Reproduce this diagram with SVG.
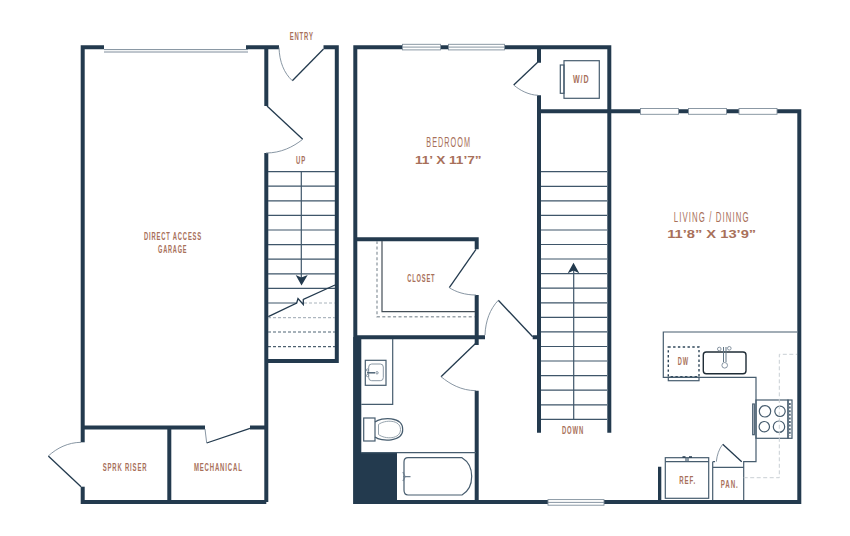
<svg xmlns="http://www.w3.org/2000/svg" width="850" height="536" viewBox="0 0 850 536">
<style>
.w{fill:none;stroke:#233a4e;stroke-width:4;stroke-linecap:butt}
.p{fill:none;stroke:#233a4e;stroke-width:1.3}
.a{fill:none;stroke:#7a8a98;stroke-width:.9}
.s{fill:none;stroke:#3f566a;stroke-width:1.2}
.k{fill:none;stroke:#465c6e;stroke-width:1.2}
.g{fill:#fff;stroke:#7f8e9b;stroke-width:.9}
text{font-family:"Liberation Sans",Arial,sans-serif;font-weight:700;fill:#a8705a;text-anchor:middle}
.m{font-size:11.5px;letter-spacing:.14em}.b{font-size:14px;font-weight:400;letter-spacing:.14em}.d{font-size:11.5px}
</style>
<rect width="850" height="536" fill="#fff"/>
<g id="walls">
<path class="w" d="M104 47.3H82.7V502H266.3M246 47.3H279M323.5 47.3H336.8V361H266.3M266.3 47.3V106M266.3 153V502M82.7 427.5H205M250 427.5H266M169.3 427.5V502"/>
<path fill="#fff" d="M79 442.3H87V486.7H79Z"/>
<path class="w" d="M355.3 47.3H402M504 47.3H609.3V113M440 47.3H449M539 47.3V62.7M539 95.3V432.7M539 111.3H799.3V504M609.3 111.3V432.7M355.3 45.3V504M353.3 502H801M355.3 239.3H476.7V249.3M476.7 295V345M476.7 390.7V502M355.3 337.3H485M532.7 337.3H539"/>
<path fill="#233a4e" d="M353.3 337H361.3V504H353.3ZM353.3 452H397V504H353.3ZM658 466.7H661.3V502H658Z"/>
</g>
<g id="windows">
<path d="M104 49.6H248M104 52H248" fill="none" stroke="#6f8090" stroke-width=".9"/>
<rect class="g" x="402.5" y="44.3" width="38" height="5.6"/><path class="a" d="M402.5 47.1H440.5"/>
<rect class="g" x="448.5" y="44.3" width="56" height="5.6"/><path class="a" d="M448.5 47.1H504.5"/>
<rect class="g" x="640.5" y="108.5" width="38" height="5.8"/>
<rect class="g" x="688.5" y="108.5" width="38" height="5.8"/>
<rect class="g" x="739" y="108.5" width="38" height="5.8"/>
<rect class="g" x="548" y="499.6" width="56" height="5.6"/><path class="a" d="M548 502.4H604"/>
</g>
<g id="doors">
<path class="p" d="M323.5 49L292.3 80.7"/><path class="a" d="M279 47.5C279.5 62 284 73 292.3 80.7"/>
<path class="p" d="M267 106L302.7 139.3"/><path class="a" d="M302.7 139.3C293 147 281 153 266 153"/>
<path class="p" d="M250 428.3L206.7 443"/><path class="a" d="M205 429L206.7 443"/>
<path class="p" d="M81 486.7L48.3 456"/><path class="a" d="M48.3 456C57 448 68 442.5 81 442.3"/>
<path class="p" d="M537.7 62.3L513.7 85"/><path class="a" d="M513.7 85C520 90.5 529 95 538 95.3"/>
<path class="p" d="M476 249.3L449.3 287.7"/><path class="a" d="M449.3 287.7C456 292 465 295 476 295"/>
<path class="p" d="M498.3 300.3L532.7 336.7"/><path class="a" d="M485 335C485.5 321 490 309 498.3 300.3"/>
<path class="p" d="M475.5 343.5L441 376.7"/><path class="a" d="M441 376.7C450 384 461 390.5 476 390.7"/>
</g>
<g id="stairs-up">
<path class="s" d="M268 171.7H335M268 186.2H335M268 200.8H335M268 215.4H335M268 230H335M268 244.6H335M268 259.2H335M268 273.8H335M268 288.3H335M268 303H297"/>
<path class="s" d="M301.3 171.7V280"/>
<path fill="#233a4e" d="M295.7 275L301.3 277.5L307.7 275L301.5 285.5Z"/>
<path class="p" d="M268.3 316.7L296.7 303L298 298.5L303.3 304.5V299.5L335 285"/>
<path d="M304 303H335" fill="none" stroke="#aab4bc" stroke-width="1" stroke-dasharray="3 2"/>
<path d="M268 317.7H335" fill="none" stroke="#9aa6b0" stroke-width="1" stroke-dasharray="3 2"/>
<path d="M268 332H335" fill="none" stroke="#4f6475" stroke-width="1.2" stroke-dasharray="3 2"/>
<path d="M268 346.7H335" fill="none" stroke="#233a4e" stroke-width="1" stroke-dasharray="3 2"/>
</g>
<g id="stairs-down">
<path class="s" d="M541 171.7H607M541 186.3H607M541 200.8H607M541 215.4H607M541 230H607M541 244.5H607M541 259H607M541 273.6H607M541 288.2H607M541 302.8H607M541 317.3H607M541 331.9H607M541 346.5H607M541 361H607M541 375.6H607M541 390.2H607M541 404.8H607M541 419.3H607"/>
<path class="s" d="M573.7 419.3V268"/>
<path fill="#233a4e" d="M567.7 273.3L573.5 262.7L579.3 273.3L573.5 270.5Z"/>
</g>
<g id="closet">
<path d="M382 241V311.7H475" fill="none" stroke="#454f58" stroke-width="1.2"/>
<path d="M377 241V316.7H475" fill="none" stroke="#9aa3aa" stroke-width="1.4" stroke-dasharray="3 2.4"/>
</g>
<g id="wd">
<rect class="k" x="564" y="60.7" width="35.3" height="37.6"/>
<rect class="k" x="560.3" y="65" width="3.7" height="28.3"/>
</g>
<g id="bath">
<path class="k" d="M392.7 339V404.3H361.3M361 452.7H476"/>
<rect class="k" x="365.3" y="360.3" width="20.7" height="25"/>
<rect x="368.7" y="364" width="14.6" height="16.7" rx="3" fill="none" stroke="#8a98a4" stroke-width="1"/>
<path d="M367 372.8H375" fill="none" stroke="#4f6475" stroke-width="1.5"/>
<circle cx="367.5" cy="370" r="1.1" class="a"/><circle cx="367.5" cy="375.6" r="1.1" class="a"/><circle cx="377" cy="372.8" r="1.2" class="a"/>
<rect class="k" x="363.7" y="418" width="11.3" height="23"/>
<path class="k" d="M375 422C381 417 403 416 402.7 429.5C403 442 381 442 375 437"/>
<path d="M378.5 424.5C385 419.5 400.5 419.5 400.5 429.5C400.5 439.5 385 439.5 378.5 434.5Z" fill="none" stroke="#8a98a4" stroke-width=".9"/>
<path class="k" d="M408 457.7H462C469 462 471.7 468 471.7 476.3C471.7 485 469 491 462 495H408C405.5 495 404 493 404 490V462C404 459 405.5 457.7 408 457.7Z"/>
<path d="M403 476.7H410.5M403 472L405 476.7L403 481" fill="none" stroke="#6f8090" stroke-width="1.3"/>
</g>
<g id="kitchen">
<path class="k" d="M797 332H663.3V377.3H756V461.7H743.7V500M712.7 461.7V500M712.7 467.3H743.7M712.7 461.7H715"/>
<rect x="668.3" y="347" width="30.7" height="29.7" fill="none" stroke="#2f4759" stroke-width="1.4" stroke-dasharray="2.4 2.4"/>
<rect class="k" x="668.3" y="377.3" width="30.7" height="3.4"/>
<rect x="703.3" y="352" width="42.7" height="21.7" rx="3" fill="none" stroke="#1f2c36" stroke-width="1.4"/>
<circle cx="719.3" cy="349" r="1.8" class="a"/><circle cx="729.3" cy="348.3" r="1.8" class="a"/><circle cx="724.7" cy="365.3" r="2.8" class="a"/>
<path d="M723.5 347V362M726 347V362" fill="none" stroke="#607484" stroke-width="1"/>
<rect class="k" x="756" y="400" width="32" height="38.3"/>
<rect class="k" x="788" y="400" width="4" height="38.3"/>
<path d="M789.9 403V436" fill="none" stroke="#3f566a" stroke-width="1.5" stroke-dasharray="2 1.6"/>
<rect class="k" x="752.7" y="404" width="1.6" height="30.7"/>
<circle class="k" cx="765" cy="411.3" r="5.7"/><circle class="k" cx="780" cy="411.3" r="5.2"/><circle class="k" cx="764.3" cy="426.7" r="5.2"/><circle class="k" cx="779" cy="426.7" r="5.7"/>
<path d="M743.7 477.7H779.3V354.3H797" fill="none" stroke="#c9cfd4" stroke-width="1" stroke-dasharray="4 2.5"/>
<path class="p" d="M722.7 444.3L741.7 461.7"/><path class="a" d="M716.3 461.7C717 455 719 449 722.7 444.3"/>
<rect class="k" x="665.3" y="457.7" width="43.4" height="40.6"/>
<path class="k" d="M665.3 461.7H708.7M686 457.7V461.7M688 457.7V461.7"/>
<path d="M682.5 457H692" fill="none" stroke="#233a4e" stroke-width="1.5" stroke-dasharray="3 3.5"/>
</g>
<g id="labels">
<text class="m" x="301.7" y="39.8" textLength="24" lengthAdjust="spacingAndGlyphs">ENTRY</text>
<text class="m" x="301" y="164.2" textLength="10" lengthAdjust="spacingAndGlyphs">UP</text>
<text class="m" x="173" y="240.2" textLength="58" lengthAdjust="spacingAndGlyphs">DIRECT ACCESS</text>
<text class="m" x="172.7" y="253.4" textLength="29.3" lengthAdjust="spacingAndGlyphs">GARAGE</text>
<text class="m" x="125" y="470.9" textLength="44.7" lengthAdjust="spacingAndGlyphs">SPRK RISER</text>
<text class="m" x="218.3" y="470.9" textLength="48.7" lengthAdjust="spacingAndGlyphs">MECHANICAL</text>
<text class="b" x="448.7" y="147.3" textLength="44.7" lengthAdjust="spacingAndGlyphs">BEDROOM</text>
<text class="d" x="448.3" y="163.5" textLength="66.7" lengthAdjust="spacingAndGlyphs">11’ X 11’7”</text>
<text class="m" x="581.3" y="83.2" textLength="16.7" lengthAdjust="spacingAndGlyphs">W/D</text>
<text class="m" x="421.3" y="281.5" textLength="28" lengthAdjust="spacingAndGlyphs">CLOSET</text>
<text class="m" x="573" y="434.4" textLength="22" lengthAdjust="spacingAndGlyphs">DOWN</text>
<text class="b" x="711.7" y="221.7" textLength="76" lengthAdjust="spacingAndGlyphs">LIVING / DINING</text>
<text class="d" x="711.7" y="237.9" textLength="89" lengthAdjust="spacingAndGlyphs">11’8” X 13’9”</text>
<text class="m" x="683.3" y="365.2" textLength="11" lengthAdjust="spacingAndGlyphs">DW</text>
<text class="m" x="687.7" y="484.2" textLength="16.7" lengthAdjust="spacingAndGlyphs">REF.</text>
<text class="m" x="729.7" y="487.5" textLength="17.7" lengthAdjust="spacingAndGlyphs">PAN.</text>
</g>
</svg>
